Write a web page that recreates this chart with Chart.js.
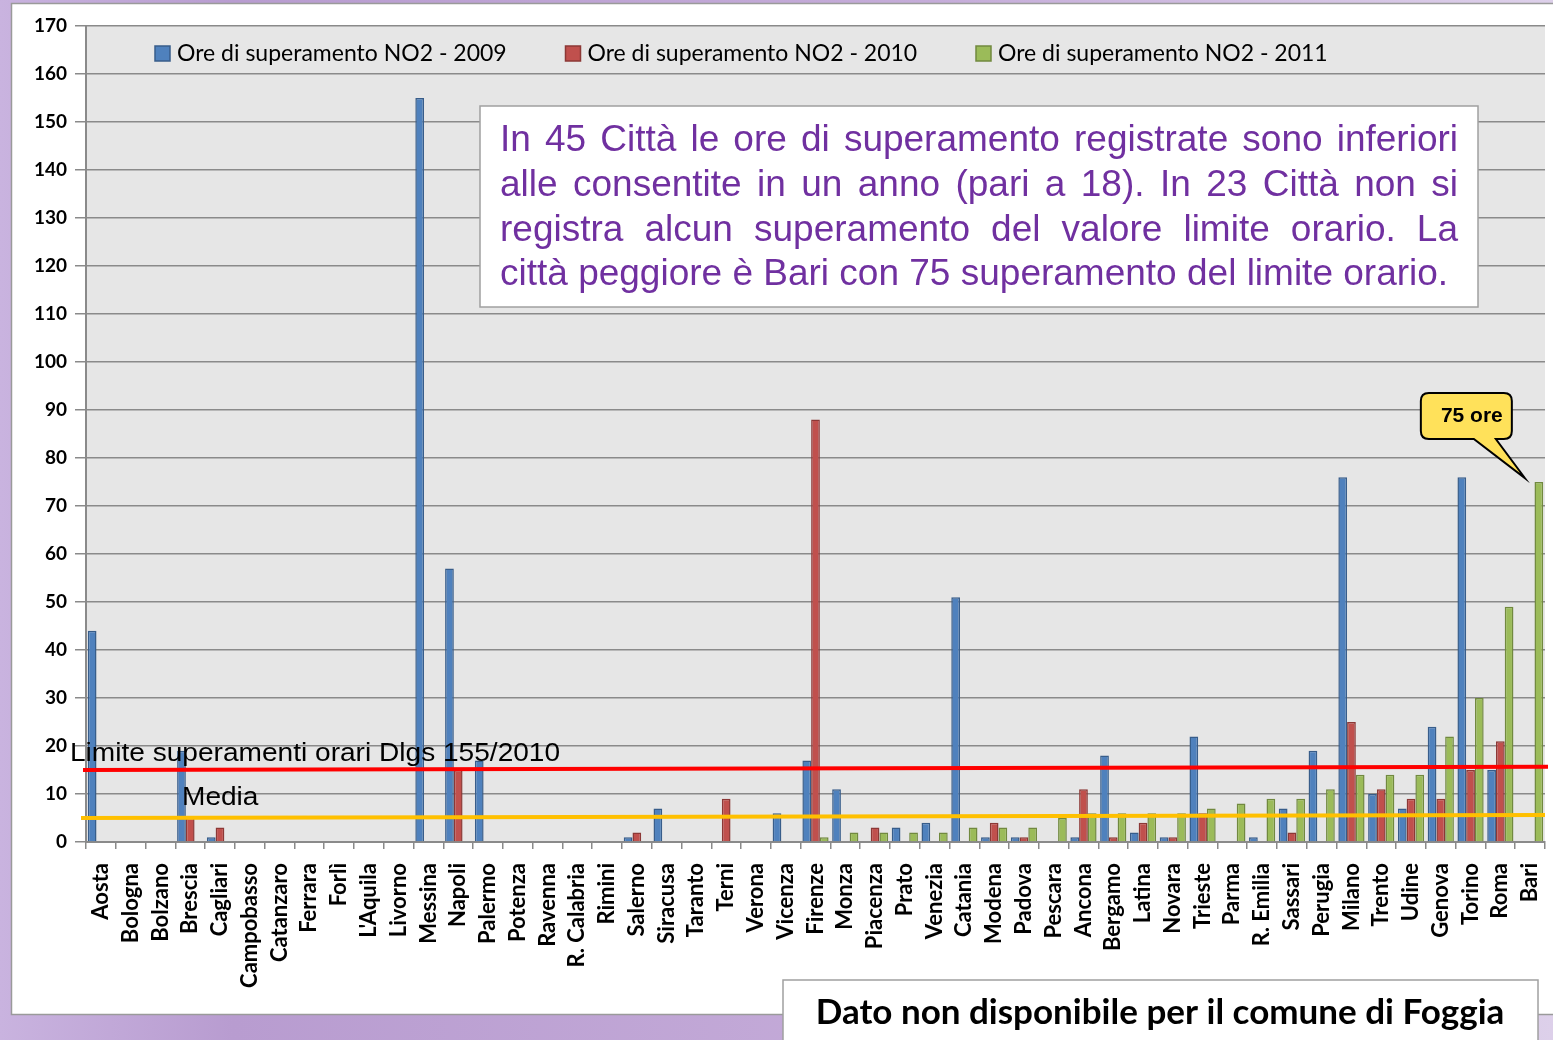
<!DOCTYPE html>
<html lang="it">
<head>
    <meta charset="UTF-8">
    <title>Ore di superamento NO2</title>
    <script src="https://cdn.jsdelivr.net/npm/chart.js"></script>
    <style>
        html, body { margin: 0; padding: 0; background: #fff; }
        #wrap { width: 1553px; height: 1040px; }
    </style>
</head>
<body>
    <div id="wrap"><canvas id="no2Chart" width="1553" height="1040"></canvas></div>
    <script>
        const cities = ['Aosta', 'Bologna', 'Bolzano', 'Brescia', 'Cagliari', 'Campobasso', 'Catanzaro',
            'Ferrara', 'Forlì', "L'Aquila", 'Livorno', 'Messina', 'Napoli', 'Palermo', 'Potenza', 'Ravenna',
            'R. Calabria', 'Rimini', 'Salerno', 'Siracusa', 'Taranto', 'Terni', 'Verona', 'Vicenza', 'Firenze',
            'Monza', 'Piacenza', 'Prato', 'Venezia', 'Catania', 'Modena', 'Padova', 'Pescara', 'Ancona',
            'Bergamo', 'Latina', 'Novara', 'Trieste', 'Parma', 'R. Emilia', 'Sassari', 'Perugia', 'Milano',
            'Trento', 'Udine', 'Genova', 'Torino', 'Roma', 'Bari'];

        const ore2009 = [44, 0, 0, 19, 1, 0, 0, 0, 0, 0, 0, 155, 57, 17, 0, 0, 0, 0, 1, 7, 0, 0, 0, 6, 17,
            11, 0, 3, 4, 51, 1, 1, 0, 1, 18, 2, 1, 22, 0, 1, 7, 19, 76, 10, 7, 24, 76, 15, 0];
        const ore2010 = [0, 0, 0, 5, 3, 0, 0, 0, 0, 0, 0, 0, 15, 0, 0, 0, 0, 0, 2, 0, 0, 9, 0, 0, 88,
            0, 3, 0, 0, 0, 4, 1, 0, 11, 1, 4, 1, 6, 0, 0, 2, 0, 25, 11, 9, 9, 15, 21, 0];
        const ore2011 = [0, 0, 0, 0, 0, 0, 0, 0, 0, 0, 0, 0, 0, 0, 0, 0, 0, 0, 0, 0, 0, 0, 0, 0, 1,
            2, 2, 2, 2, 3, 3, 3, 5, 6, 6, 6, 6, 7, 8, 9, 9, 11, 14, 14, 14, 22, 30, 49, 75];

        const seriesLabels = ['Ore di superamento NO2 - 2009', 'Ore di superamento NO2 - 2010', 'Ore di superamento NO2 - 2011'];

        // reference lines drawn across the plot (value at left end, value at right end)
        const limiteLine = [15.0, 15.7];
        const mediaLine = [5.0, 5.6];

        const yMin = 0;
        const yMax = 170;
        const yStep = 10;

        const noteLines = [
            'In 45 Città le ore di superamento registrate sono inferiori',
            'alle consentite in un anno (pari a 18). In 23 Città non si',
            'registra alcun superamento del valore limite orario. La',
            'città peggiore è Bari con 75 superamento del limite orario.'
        ];

        const CAL = 'Lato, "Open Sans", sans-serif';
        const ARIAL = '"Liberation Sans", Arial, sans-serif';

        function drawJustified(ctx, text, x, y, width, justify) {
            if (!justify) {
                ctx.fillText(text, x, y);
                return;
            }
            const words = text.split(' ');
            const sum = words.reduce((s, w) => s + ctx.measureText(w).width, 0);
            const gap = (width - sum) / (words.length - 1);
            let cx = x;
            words.forEach(w => {
                ctx.fillText(w, cx, y);
                cx += ctx.measureText(w).width + gap;
            });
        }

        function stretchedText(ctx, text, x, y, sx) {
            ctx.save();
            ctx.translate(x, y);
            ctx.scale(sx, 1);
            ctx.fillText(text, 0, 0);
            ctx.restore();
        }

        const framePlugin = {
            id: 'frame',
            beforeDraw(chart) {
                const ctx = chart.ctx;
                const W = chart.width, H = chart.height;
                ctx.save();
                const g = ctx.createLinearGradient(0, 0, W, 0);
                g.addColorStop(0, '#c9b3df');
                g.addColorStop(0.15, '#b89cd0');
                g.addColorStop(0.6, '#c5acd9');
                g.addColorStop(1, '#ddd0ea');
                ctx.fillStyle = g;
                ctx.fillRect(0, 0, W, H);
                ctx.fillStyle = '#ffffff';
                ctx.fillRect(11, 3, W - 11, 1012);
                ctx.strokeStyle = '#9a9a9a';
                ctx.lineWidth = 1.5;
                ctx.strokeRect(11.5, 3.5, W, 1011);
                const a = chart.chartArea;
                ctx.fillStyle = '#e6e6e6';
                ctx.fillRect(a.left, a.top, a.right - a.left, a.bottom - a.top);
                ctx.restore();
            }
        };

        const overlayPlugin = {
            id: 'overlay',
            afterDatasetsDraw(chart) {
                const ctx = chart.ctx;
                const a = chart.chartArea;
                const y = chart.scales.y;
                ctx.save();

                // limit and average lines
                ctx.lineWidth = 4;
                ctx.strokeStyle = '#ff0000';
                ctx.beginPath();
                ctx.moveTo(a.left - 3, y.getPixelForValue(limiteLine[0]));
                ctx.lineTo(a.right + 3, y.getPixelForValue(limiteLine[1]));
                ctx.stroke();
                ctx.strokeStyle = '#ffc000';
                ctx.beginPath();
                ctx.moveTo(a.left - 5, y.getPixelForValue(mediaLine[0]));
                ctx.lineTo(a.right, y.getPixelForValue(mediaLine[1]));
                ctx.stroke();

                ctx.fillStyle = '#000';
                ctx.font = '26px ' + ARIAL;
                ctx.textBaseline = 'middle';
                ctx.textAlign = 'left';
                stretchedText(ctx, 'Limite superamenti orari Dlgs 155/2010', 70, 754, 1.08);
                stretchedText(ctx, 'Media', 182, 798, 1.08);

                // legend
                ctx.font = '23px ' + CAL;
                chart.data.datasets.forEach((d, i) => {
                    const lx = 155 + i * 410.5;
                    ctx.fillStyle = d.backgroundColor;
                    ctx.fillRect(lx, 46, 15, 15);
                    ctx.strokeStyle = d.borderColor;
                    ctx.lineWidth = 1.5;
                    ctx.strokeRect(lx, 46, 15, 15);
                    ctx.fillStyle = '#000';
                    ctx.fillText(d.label, lx + 22, 54);
                });

                // note box
                ctx.fillStyle = '#fff';
                ctx.fillRect(480, 106, 998, 201);
                ctx.strokeStyle = '#a0a0a0';
                ctx.lineWidth = 1.5;
                ctx.strokeRect(480, 106, 998, 201);
                ctx.fillStyle = '#7030a0';
                ctx.font = '37px ' + ARIAL;
                noteLines.forEach((t, i) => {
                    drawJustified(ctx, t, 500, 141 + i * 44.7, 958, i < noteLines.length - 1);
                });

                // callout for Bari
                const bar = chart.getDatasetMeta(2).data[cities.indexOf('Bari')];
                const tx = bar.x - 14, ty = bar.y - 4;
                const bx = tx - 104, by = ty - 85, bw = 91, bh = 46, r = 8;
                ctx.beginPath();
                ctx.moveTo(bx + r, by);
                ctx.lineTo(bx + bw - r, by);
                ctx.quadraticCurveTo(bx + bw, by, bx + bw, by + r);
                ctx.lineTo(bx + bw, by + bh - r);
                ctx.quadraticCurveTo(bx + bw, by + bh, bx + bw - r, by + bh);
                ctx.lineTo(bx + 75, by + bh);
                ctx.lineTo(tx, ty);
                ctx.lineTo(bx + 53, by + bh);
                ctx.lineTo(bx + r, by + bh);
                ctx.quadraticCurveTo(bx, by + bh, bx, by + bh - r);
                ctx.lineTo(bx, by + r);
                ctx.quadraticCurveTo(bx, by, bx + r, by);
                ctx.closePath();
                ctx.fillStyle = '#ffe15a';
                ctx.fill();
                ctx.strokeStyle = '#000';
                ctx.lineWidth = 2;
                ctx.stroke();
                ctx.fillStyle = '#000';
                ctx.font = 'bold 21px ' + ARIAL;
                ctx.textAlign = 'center';
                ctx.fillText('75 ore', bx + 51, by + 23);

                // footnote box
                ctx.fillStyle = '#fff';
                ctx.fillRect(783, 980, 755, 70);
                ctx.strokeStyle = '#a0a0a0';
                ctx.lineWidth = 1.5;
                ctx.strokeRect(783, 980, 755, 70);
                ctx.fillStyle = '#000';
                ctx.font = 'bold 35px ' + CAL;
                ctx.fillText('Dato non disponibile per il comune di Foggia', 1160, 1013);

                ctx.restore();
            }
        };

        const ctx = document.getElementById('no2Chart').getContext('2d');
        new Chart(ctx, {
            type: 'bar',
            data: {
                labels: cities,
                datasets: [
                    { label: seriesLabels[0], data: ore2009, backgroundColor: '#4f81bd', borderColor: '#385d8a' },
                    { label: seriesLabels[1], data: ore2010, backgroundColor: '#c0504d', borderColor: '#8c3836' },
                    { label: seriesLabels[2], data: ore2011, backgroundColor: '#9bbb59', borderColor: '#71893f' }
                ]
            },
            options: {
                responsive: false,
                animation: false,
                layout: { padding: { top: 26, right: 8, left: 0, bottom: 0 } },
                datasets: {
                    bar: { categoryPercentage: 0.88, barPercentage: 1.0, borderWidth: 1.5 }
                },
                plugins: {
                    legend: { display: false },
                    tooltip: { enabled: false }
                },
                scales: {
                    x: {
                        afterFit(scale) {
                            scale.height = 198;
                            scale.paddingLeft = 0;
                            scale.paddingRight = 0;
                        },
                        grid: { drawOnChartArea: false, drawTicks: true, tickLength: 7, color: '#8a8a8a', lineWidth: 1.5, offset: true },
                        border: { color: '#8a8a8a', width: 2 },
                        ticks: {
                            autoSkip: false, maxRotation: 90, minRotation: 90, padding: 14,
                            color: '#000', font: { family: 'Lato', weight: 'bold', size: 22 }
                        }
                    },
                    y: {
                        min: yMin, max: yMax,
                        afterFit(scale) { scale.width = 86; },
                        grid: { color: '#8a8a8a', lineWidth: 1.5, tickLength: 11 },
                        border: { color: '#8a8a8a', width: 2 },
                        ticks: {
                            stepSize: yStep, padding: 8, color: '#000',
                            font: { family: 'Lato', weight: 'bold', size: 19 }
                        }
                    }
                }
            },
            plugins: [framePlugin, overlayPlugin]
        });
    </script>
</body>
</html>
